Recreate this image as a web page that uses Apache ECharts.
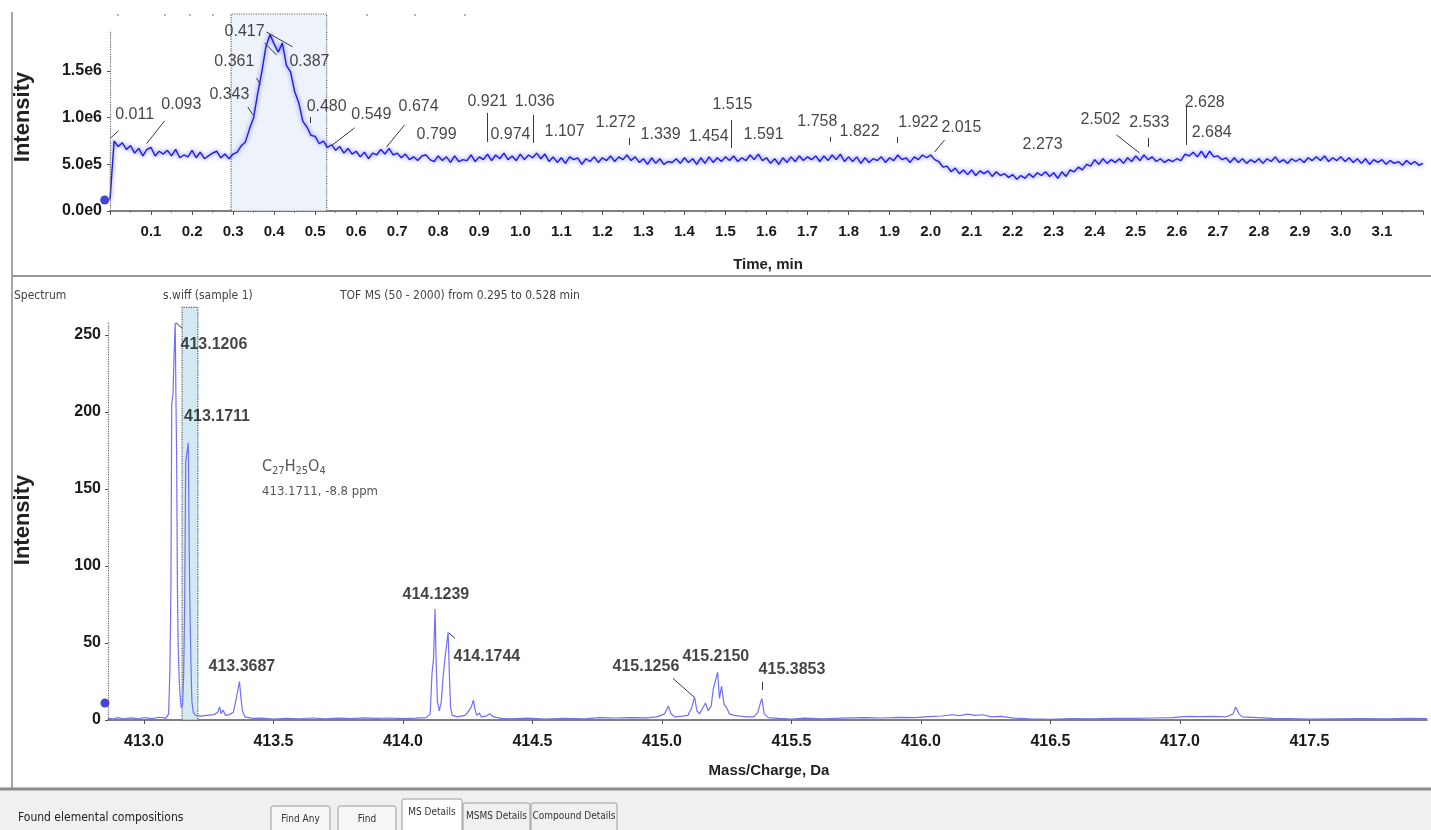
<!DOCTYPE html>
<html><head><meta charset="utf-8">
<script src="https://cdn.jsdelivr.net/npm/echarts@6/dist/echarts.min.js"></script>
<style>html,body{margin:0;padding:0;background:#fff}#c{width:1431px;height:830px}</style>
</head><body><div id="c"></div><script>
// ---------- TIC chromatogram (Time, min vs Intensity) ----------
const ticTimes = [
0,0.01,0.02,0.03,0.04,0.05,0.06,0.07,0.08,0.09,
0.1,0.11,0.12,0.13,0.14,0.15,0.16,0.17,0.18,0.19,
0.2,0.21,0.22,0.23,0.24,0.25,0.26,0.27,0.28,0.29,
0.3,0.31,0.32,0.33,0.34,0.35,0.36,0.37,0.38,0.39,
0.4,0.41,0.42,0.43,0.44,0.45,0.46,0.47,0.48,0.49,
0.5,0.51,0.52,0.53,0.54,0.55,0.56,0.57,0.58,0.59,
0.6,0.61,0.62,0.63,0.64,0.65,0.66,0.67,0.68,0.69,
0.7,0.71,0.72,0.73,0.74,0.75,0.76,0.77,0.78,0.79,
0.8,0.81,0.82,0.83,0.84,0.85,0.86,0.87,0.88,0.89,
0.9,0.91,0.92,0.93,0.94,0.95,0.96,0.97,0.98,0.99,
1,1.01,1.02,1.03,1.04,1.05,1.06,1.07,1.08,1.09,
1.1,1.11,1.12,1.13,1.14,1.15,1.16,1.17,1.18,1.19,
1.2,1.21,1.22,1.23,1.24,1.25,1.26,1.27,1.28,1.29,
1.3,1.31,1.32,1.33,1.34,1.35,1.36,1.37,1.38,1.39,
1.4,1.41,1.42,1.43,1.44,1.45,1.46,1.47,1.48,1.49,
1.5,1.51,1.52,1.53,1.54,1.55,1.56,1.57,1.58,1.59,
1.6,1.61,1.62,1.63,1.64,1.65,1.66,1.67,1.68,1.69,
1.7,1.71,1.72,1.73,1.74,1.75,1.76,1.77,1.78,1.79,
1.8,1.81,1.82,1.83,1.84,1.85,1.86,1.87,1.88,1.89,
1.9,1.91,1.92,1.93,1.94,1.95,1.96,1.97,1.98,1.99,
2,2.01,2.02,2.03,2.04,2.05,2.06,2.07,2.08,2.09,
2.1,2.11,2.12,2.13,2.14,2.15,2.16,2.17,2.18,2.19,
2.2,2.21,2.22,2.23,2.24,2.25,2.26,2.27,2.28,2.29,
2.3,2.31,2.32,2.33,2.34,2.35,2.36,2.37,2.38,2.39,
2.4,2.41,2.42,2.43,2.44,2.45,2.46,2.47,2.48,2.49,
2.5,2.51,2.52,2.53,2.54,2.55,2.56,2.57,2.58,2.59,
2.6,2.61,2.62,2.63,2.64,2.65,2.66,2.67,2.68,2.69,
2.7,2.71,2.72,2.73,2.74,2.75,2.76,2.77,2.78,2.79,
2.8,2.81,2.82,2.83,2.84,2.85,2.86,2.87,2.88,2.89,
2.9,2.91,2.92,2.93,2.94,2.95,2.96,2.97,2.98,2.99,
3,3.01,3.02,3.03,3.04,3.05,3.06,3.07,3.08,3.09,
3.1,3.11,3.12,3.13,3.14,3.15,3.16,3.17,3.18,3.19,
3.2];
const ticIntensity = [
1.2e5,7.5e5,6.9e5,7.3e5,6.6e5,7.0e5,6.2e5,6.7e5,5.9e5,6.6e5,
6.8e5,5.9e5,6.4e5,6.1e5,6.5e5,5.9e5,6.6e5,5.7e5,6.0e5,5.8e5,
6.5e5,5.7e5,6.3e5,5.6e5,5.9e5,6.2e5,6.4e5,5.7e5,6.1e5,5.6e5,
6.1e5,6.3e5,7.0e5,7.4e5,8.8e5,10.0e5,12.6e5,14.9e5,17.6e5,18.9e5,
17.9e5,17.0e5,18.0e5,15.6e5,14.9e5,12.8e5,11.6e5,9.6e5,9.0e5,8.1e5,
8.0e5,7.2e5,7.5e5,6.8e5,7.1e5,6.5e5,6.9e5,6.2e5,6.7e5,6.1e5,
6.4e5,5.8e5,6.3e5,5.6e5,6.2e5,6.0e5,6.6e5,6.1e5,6.7e5,6.0e5,
6.2e5,5.7e5,6.1e5,5.5e5,5.8e5,5.4e5,5.9e5,6.0e5,5.5e5,5.3e5,
5.9e5,5.4e5,5.8e5,5.2e5,5.9e5,5.3e5,5.5e5,5.4e5,6.0e5,5.3e5,
5.8e5,5.5e5,6.1e5,5.4e5,6.0e5,5.6e5,6.2e5,5.5e5,5.9e5,5.4e5,
6.1e5,5.5e5,6.0e5,5.7e5,6.2e5,5.6e5,6.1e5,5.3e5,5.8e5,5.2e5,
5.7e5,5.1e5,5.8e5,5.5e5,5.7e5,5.0e5,5.6e5,5.3e5,5.8e5,5.2e5,
5.7e5,5.4e5,5.9e5,5.3e5,5.8e5,5.5e5,6.0e5,5.4e5,5.8e5,5.2e5,
5.6e5,5.0e5,5.7e5,5.1e5,5.6e5,5.0e5,5.3e5,5.2e5,5.6e5,5.1e5,
5.7e5,5.2e5,5.6e5,5.0e5,5.7e5,5.1e5,5.8e5,5.2e5,5.7e5,5.3e5,
5.8e5,5.4e5,5.9e5,5.3e5,5.7e5,5.4e5,6.0e5,5.5e5,6.1e5,5.4e5,
5.7e5,5.1e5,5.6e5,5.0e5,5.7e5,5.2e5,5.8e5,5.3e5,5.9e5,5.4e5,
5.8e5,5.5e5,5.9e5,5.3e5,5.9e5,5.4e5,6.0e5,5.5e5,6.1e5,5.3e5,
5.8e5,5.3e5,5.8e5,5.1e5,5.7e5,5.2e5,5.6e5,5.4e5,5.8e5,5.2e5,
5.7e5,5.4e5,6.0e5,5.5e5,5.7e5,5.2e5,5.8e5,5.5e5,6.0e5,5.7e5,
6.0e5,5.5e5,5.3e5,4.7e5,4.8e5,4.2e5,4.6e5,4.0e5,4.4e5,3.9e5,
4.4e5,3.8e5,4.3e5,4.0e5,4.3e5,3.7e5,4.2e5,3.8e5,4.0e5,3.6e5,
3.9e5,3.4e5,3.8e5,3.5e5,4.0e5,3.6e5,4.1e5,3.8e5,4.2e5,3.7e5,
4.1e5,3.5e5,4.2e5,3.7e5,4.4e5,4.2e5,4.7e5,4.4e5,5.0e5,4.8e5,
5.5e5,5.0e5,5.6e5,5.1e5,5.5e5,5.2e5,5.6e5,5.1e5,5.7e5,5.3e5,
5.9e5,5.4e5,6.0e5,5.5e5,5.8e5,5.3e5,5.6e5,5.2e5,5.5e5,5.3e5,
5.6e5,5.4e5,6.1e5,5.9e5,6.3e5,5.8e5,6.4e5,5.7e5,6.4e5,5.8e5,
5.9e5,5.5e5,5.7e5,5.2e5,5.7e5,5.2e5,5.6e5,5.1e5,5.5e5,5.2e5,
5.6e5,5.1e5,5.6e5,5.3e5,5.8e5,5.2e5,5.5e5,5.1e5,5.6e5,5.3e5,
5.6e5,5.2e5,5.7e5,5.4e5,5.8e5,5.4e5,5.9e5,5.3e5,5.7e5,5.4e5,
5.8e5,5.3e5,5.7e5,5.2e5,5.6e5,5.1e5,5.6e5,5.0e5,5.5e5,5.2e5,
5.5e5,5.0e5,5.4e5,5.1e5,5.3e5,4.9e5,5.4e5,5.0e5,5.3e5,4.9e5,
5.1e5];
const ticRange = [0, 3.2];
const ticIntensityMax = 2.11e6;
const ticYTicks = [0, 5e5, 1e6, 1.5e6];
const ticSelection = [0.295, 0.528];           // "from 0.295 to 0.528 min"
const topPeakLabels = ['0.011','0.093','0.417','0.361','0.387','0.343','0.480','0.549','0.674','0.799',
  '0.921','1.036','0.974','1.107','1.272','1.339','1.454','1.515','1.591','1.758','1.822','1.922',
  '2.015','2.273','2.502','2.533','2.628','2.684'];

// ---------- Mass spectrum (m/z vs Intensity) ----------
const msMz = [412.861,412.88,412.90,412.92,412.95,412.98,413.00,413.03,413.06,413.085,
  413.095,413.100,413.104,413.107,413.112,413.116,413.1206,413.123,413.126,413.129,
  413.132,413.136,413.140,413.144,413.149,413.153,413.157,413.161,413.1711,413.174,
  413.177,413.181,413.185,413.19,413.20,413.22,413.25,413.27,413.285,413.292,
  413.298,413.305,413.315,413.33,413.345,413.355,413.362,413.3687,413.374,413.38,
  413.39,413.42,413.45,413.50,413.55,413.60,413.65,413.70,413.75,413.80,
  413.85,413.90,413.95,414.00,414.05,414.09,414.105,414.112,414.118,414.1239,
  414.128,414.133,414.140,414.148,414.155,414.162,414.1744,414.179,414.184,414.19,
  414.21,414.24,414.255,414.265,414.272,414.278,414.285,414.295,414.302,414.32,
  414.335,414.35,414.38,414.42,414.48,414.55,414.62,414.70,414.76,414.82,
  414.88,414.94,414.98,415.01,415.025,415.035,415.05,415.08,415.10,415.115,
  415.1256,415.135,415.145,415.158,415.168,415.178,415.19,415.198,415.2150,415.222,
  415.23,415.24,415.25,415.26,415.28,415.30,415.33,415.355,415.37,415.3853,
  415.395,415.41,415.45,415.50,415.55,415.62,415.70,415.78,415.85,415.92,
  415.98,416.03,416.08,416.12,416.15,416.18,416.21,416.24,416.27,416.31,
  416.36,416.42,416.50,416.58,416.66,416.74,416.82,416.90,416.97,417.03,
  417.08,417.13,417.18,417.205,417.215,417.228,417.24,417.30,417.36,417.42,
  417.50,417.60,417.70,417.80,417.88,417.954];
const msIntensity = [1.2,0.6,1.5,0.8,1.4,0.7,1.6,0.9,1.8,1.2,
  4,32,86,205,212,236,258,214,172,86,
  48,26,14,8,10,28,74,168,180,122,
  76,38,12,5,3,2.5,3.2,3.5,5,8.5,
  4,6.5,3,3.5,5,13,19,25,15,6,
  2,1,1.2,0.6,1.1,0.8,1.3,0.7,1.2,0.9,
  1.4,1.0,1.3,0.9,1.2,1.5,4,30,40,72,
  38,12,6,12,28,40,57,30,8,3,
  2,3,6,9,13,7,3,4.5,2,2.5,
  4,2,1,0.8,1.2,0.6,1,0.7,1.5,1.3,
  1.6,1.4,2,4,9,4,2,2.5,3,8,
  15,6,4,8,11,6,9,20,31,14,
  22,10,8,4,3,2.5,2,2,5,14,
  4,1.5,1,0.6,1.2,0.7,1.2,1.6,1.3,1.7,
  1.5,2.2,2.6,3.4,2.8,3.8,3.0,3.4,2.0,2.4,
  1.2,0.8,0.5,0.9,0.7,1.1,1.0,1.3,1.6,2.4,
  2.2,2.3,2.1,4,8.5,4,2,1.6,1.1,0.9,
  0.6,0.8,0.9,0.8,1.0,0.9];
const msRange = [412.861, 417.954];
const msIntensityMax = 269.5;
const msXTickLabels = [413.0,413.5,414.0,414.5,415.0,415.5,416.0,416.5,417.0,417.5];
const msYTicks = [0,50,100,150,200,250];
const msSelection = [413.147, 413.208];
const msPeakLabels = ['413.1206','413.1711','413.3687','414.1239','414.1744','415.1256','415.2150','415.3853'];

// ---------- annotation layout (label anchors & leader lines, in data units) ----------
const topLabelLayout = [[0.060,1.029e6],[0.174,1.136e6],[0.328,1.919e6],[0.303,1.597e6],[0.486,1.597e6],
  [0.291,1.243e6],[0.528,1.115e6],[0.637,1.029e6],[0.752,1.115e6],[0.796,0.815e6],
  [0.920,1.168e6],[1.035,1.168e6],[0.976,0.815e6],[1.108,0.847e6],[1.232,0.943e6],[1.342,0.815e6],
  [1.459,0.793e6],[1.517,1.136e6],[1.593,0.815e6],[1.724,0.954e6],[1.827,0.847e6],[1.970,0.943e6],
  [2.075,0.890e6],[2.273,0.707e6],[2.414,0.975e6],[2.533,0.943e6],[2.668,1.158e6],[2.685,0.836e6]];
const topLeaderLayout = [
  [[0.001,0.78e6],[0.021,0.86e6]],[[0.089,0.72e6],[0.133,0.965e6]],[[0.336,1.115e6],[0.348,1.03e6]],
  [[0.357,1.425e6],[0.367,1.35e6]],[[0.381,1.918e6],[0.445,1.758e6]],[[0.377,1.80e6],[0.406,1.67e6]],
  [[0.487,1.007e6],[0.487,0.943e6]],[[0.542,0.707e6],[0.596,0.89e6]],[[0.674,0.686e6],[0.718,0.922e6]],
  [[0.920,1.05e6],[0.920,0.74e6]],[[1.032,1.03e6],[1.032,0.73e6]],[[1.266,0.782e6],[1.266,0.707e6]],
  [[1.515,0.975e6],[1.515,0.675e6]],[[1.756,0.793e6],[1.756,0.74e6]],[[1.919,0.793e6],[1.919,0.729e6]],
  [[2.0095,0.632e6],[2.034,0.761e6]],[[2.453,0.815e6],[2.509,0.622e6]],[[2.531,0.782e6],[2.531,0.686e6]],
  [[2.624,1.115e6],[2.624,0.707e6]]];
const msLabelLayout = [[413.270,243.5],[413.282,196.8],[413.378,34.4],[414.127,81.2],[414.324,40.9],
  [414.938,34.4],[415.208,40.9],[415.502,32.5]];
const msLeaderLayout = [[[413.1235,258],[413.147,254.5]],[[414.1776,56.5],[414.2007,53]],
  [[415.0425,27],[415.1236,15]],[[415.386,24.7],[415.386,19.5]]];

const SANS = "'Liberation Sans',Arial,sans-serif";
const COND = "'DejaVu Sans Condensed','Liberation Sans',sans-serif";

const ticData = ticTimes.map((t, i) => [t, ticIntensity[i]]);
const msData = msMz.map((m, i) => [m, msIntensity[i]]);

const axisLabelStyle = {color:'#1a1a1a', fontFamily:SANS, fontWeight:'bold', fontSize:16};

function txt(x, y, text, opt) {
  return Object.assign({type:'text', x:x, y:y, silent:true,
    style:Object.assign({text:text, fill:'#222', font:'12px ' + COND, align:'left', verticalAlign:'middle'}, opt || {})});
}
function button(x, y, w, h, label, fill) {
  return [
    {type:'rect', shape:{x:x, y:y, width:w, height:h, r:2}, style:{fill:fill, stroke:'#9a9a9a', lineWidth:1}, silent:true},
    txt(x + w / 2, y + 13, label, {align:'center', font:'10px ' + COND, fill:'#333'})
  ];
}
// small UI marker dots along the top edge of the chromatogram pane
const topDots = [118, 165, 190, 213, 367, 415, 465].map(x => (
  {type:'circle', shape:{cx:x, cy:15, r:1}, style:{fill:'#9a9a9a'}, silent:true}));

const option = {
  animation:false,
  backgroundColor:'#fff',
  grid:[
    {left:110, top:14, width:1313, height:197},
    {left:108, top:305, width:1319, height:415}
  ],
  xAxis:[
    {gridIndex:0, type:'value', min:ticRange[0], max:ticRange[1], interval:0.1,
     axisLine:{lineStyle:{color:'#555', width:1.5}},
     axisTick:{length:4, lineStyle:{color:'#555'}},
     minorTick:{show:true, splitNumber:2, length:2, lineStyle:{color:'#888'}},
     splitLine:{show:false},
     axisLabel:Object.assign({showMinLabel:false, showMaxLabel:false, margin:13,
       formatter:v => v.toFixed(1)}, axisLabelStyle, {fontSize:15})},
    {gridIndex:1, type:'value', min:msRange[0], max:msRange[1],
     axisLine:{lineStyle:{color:'#555', width:1.5}},
     axisTick:{customValues:msXTickLabels, length:4, lineStyle:{color:'#555'}},
     splitLine:{show:false},
     axisLabel:Object.assign({customValues:msXTickLabels, margin:14,
       formatter:v => v.toFixed(1)}, axisLabelStyle)}
  ],
  yAxis:[
    {gridIndex:0, type:'value', min:0, max:ticIntensityMax,
     axisLine:{show:false},
     axisTick:{customValues:ticYTicks, length:3, lineStyle:{color:'#555'}},
     splitLine:{show:false},
     axisLabel:Object.assign({customValues:ticYTicks, margin:8,
       formatter:v => v.toExponential(1).replace('+','')}, axisLabelStyle)},
    {gridIndex:1, type:'value', min:0, max:msIntensityMax,
     axisLine:{show:false},
     axisTick:{customValues:msYTicks, length:3, lineStyle:{color:'#555'}},
     splitLine:{show:false},
     axisLabel:Object.assign({customValues:msYTicks, margin:7}, axisLabelStyle)}
  ],
  series:[
    // TIC trace
    {type:'line', xAxisIndex:0, yAxisIndex:0, data:ticData, symbol:'none', z:3,
     lineStyle:{color:'#1c1ce8', width:1.4, shadowBlur:4, shadowColor:'rgba(90,90,255,0.95)'},
     markArea:{silent:true, itemStyle:{color:'#eef3fb', borderColor:'#666', borderWidth:1.2, borderType:'dotted'},
       data:[[{coord:[ticSelection[0], 0]}, {coord:[ticSelection[1], ticIntensityMax]}]]},
     markLine:{silent:true, symbol:'none', label:{show:false}, emphasis:{disabled:true},
       lineStyle:{color:'#666', type:'dotted', width:1.2},
       data:[[{coord:[ticRange[0], 0]}, {coord:[ticRange[0], 1.93e6]}]]}},
    // TIC annotations
    {type:'scatter', xAxisIndex:0, yAxisIndex:0, symbolSize:0, silent:true, z:6,
     data:topPeakLabels.map((s, i) => ({name:s, value:topLabelLayout[i]})),
     label:{show:true, position:'inside', formatter:'{b}', color:'#151515', fontFamily:SANS, fontSize:16},
     markLine:{silent:true, symbol:'none', label:{show:false}, emphasis:{disabled:true},
       lineStyle:{color:'#3a3a3a', width:1, type:'solid'},
       data:topLeaderLayout.map(([a, b]) => [{coord:a}, {coord:b}])}},
    // TIC cursor dot
    {type:'scatter', xAxisIndex:0, yAxisIndex:0, clip:false, symbolSize:9, silent:true, z:7,
     itemStyle:{color:'#1818d0'}, data:[[-0.013, 1.18e5]]},
    // Mass spectrum profile
    {type:'line', xAxisIndex:1, yAxisIndex:1, data:msData, symbol:'none', z:3,
     lineStyle:{color:'#7070f8', width:1.2},
     markArea:{silent:true, itemStyle:{color:'#d2eaf2', borderColor:'#555', borderWidth:1.2, borderType:'dotted'},
       data:[[{coord:[msSelection[0], 0]}, {coord:[msSelection[1], 268]}]]},
     markLine:{silent:true, symbol:'none', label:{show:false}, emphasis:{disabled:true},
       lineStyle:{color:'#666', type:'dotted', width:1.2},
       data:[[{coord:[msRange[0], 0]}, {coord:[msRange[0], 258]}]]}},
    // MS annotations
    {type:'scatter', xAxisIndex:1, yAxisIndex:1, symbolSize:0, silent:true, z:6,
     data:msPeakLabels.map((s, i) => ({name:s, value:msLabelLayout[i]})),
     label:{show:true, position:'inside', formatter:'{b}', color:'#151515', fontFamily:SANS, fontWeight:'bold', fontSize:16},
     markLine:{silent:true, symbol:'none', label:{show:false}, emphasis:{disabled:true},
       lineStyle:{color:'#3a3a3a', width:1, type:'solid'},
       data:msLeaderLayout.map(([a, b]) => [{coord:a}, {coord:b}])}},
    // MS cursor dot
    {type:'scatter', xAxisIndex:1, yAxisIndex:1, clip:false, symbolSize:9, silent:true, z:7,
     itemStyle:{color:'#1818d0'}, data:[[412.849, 11]]}
  ],
  graphic:[
    {type:'line', shape:{x1:12, y1:12, x2:12, y2:789}, style:{stroke:'#888', lineWidth:1.5}, silent:true},
    {type:'line', shape:{x1:12, y1:276, x2:1431, y2:276}, style:{stroke:'#9a9a9a', lineWidth:2}, silent:true},
    {type:'rect', shape:{x:0, y:789, width:1431, height:41}, style:{fill:'#f0f0f0'}, silent:true},
    {type:'line', shape:{x1:0, y1:789, x2:1431, y2:789}, style:{stroke:'#8c8c8c', lineWidth:3}, silent:true},
    // axis titles
    {type:'text', x:23, y:117, rotation:Math.PI/2, silent:true,
     style:{text:'Intensity', font:'bold 22px ' + SANS, fill:'#222', align:'center', verticalAlign:'middle'}},
    {type:'text', x:23, y:520, rotation:Math.PI/2, silent:true,
     style:{text:'Intensity', font:'bold 22px ' + SANS, fill:'#222', align:'center', verticalAlign:'middle'}},
    txt(768, 265, 'Time, min', {align:'center', font:'bold 15px ' + SANS}),
    txt(769, 771, 'Mass/Charge, Da', {align:'center', font:'bold 15px ' + SANS}),
    // spectrum header
    txt(14, 296, 'Spectrum', {font:'12px ' + COND, fill:'#444'}),
    txt(163, 296, 's.wiff (sample 1)', {font:'12px ' + COND, fill:'#444'}),
    txt(340, 296, 'TOF MS (50 - 2000) from 0.295 to 0.528 min', {font:'12px ' + COND, fill:'#444'}),
    // formula
    {type:'text', x:262, y:468, silent:true,
     style:{text:'{n|C}{s|27}{n|H}{s|25}{n|O}{s|4}', align:'left', verticalAlign:'middle',
       rich:{n:{fontFamily:COND, fontSize:16, fill:'#555', lineHeight:18, verticalAlign:'top'},
             s:{fontFamily:COND, fontSize:11, fill:'#555', lineHeight:18, verticalAlign:'bottom', padding:[8,0,0,0]}}}},
    txt(262, 492, '413.1711, -8.8 ppm', {font:'13px ' + COND, fill:'#555'}),
    // bottom bar
    txt(18, 818, 'Found elemental compositions', {font:'12px ' + COND, fill:'#222'})
  ]
    .concat(topDots)
    .concat(button(271, 806, 59, 26, 'Find Any', '#f6f6f6'))
    .concat(button(338, 806, 58, 26, 'Find', '#f6f6f6'))
    .concat(button(402, 799, 60, 33, 'MS Details', '#ffffff'))
    .concat(button(463, 803, 67, 29, 'MSMS Details', '#f0f0f0'))
    .concat(button(531, 803, 86, 29, 'Compound Details', '#f0f0f0'))
};

const chart = echarts.init(document.getElementById('c'), null, {renderer:'canvas', width:1431, height:830});
chart.setOption(option);
</script></body></html>
